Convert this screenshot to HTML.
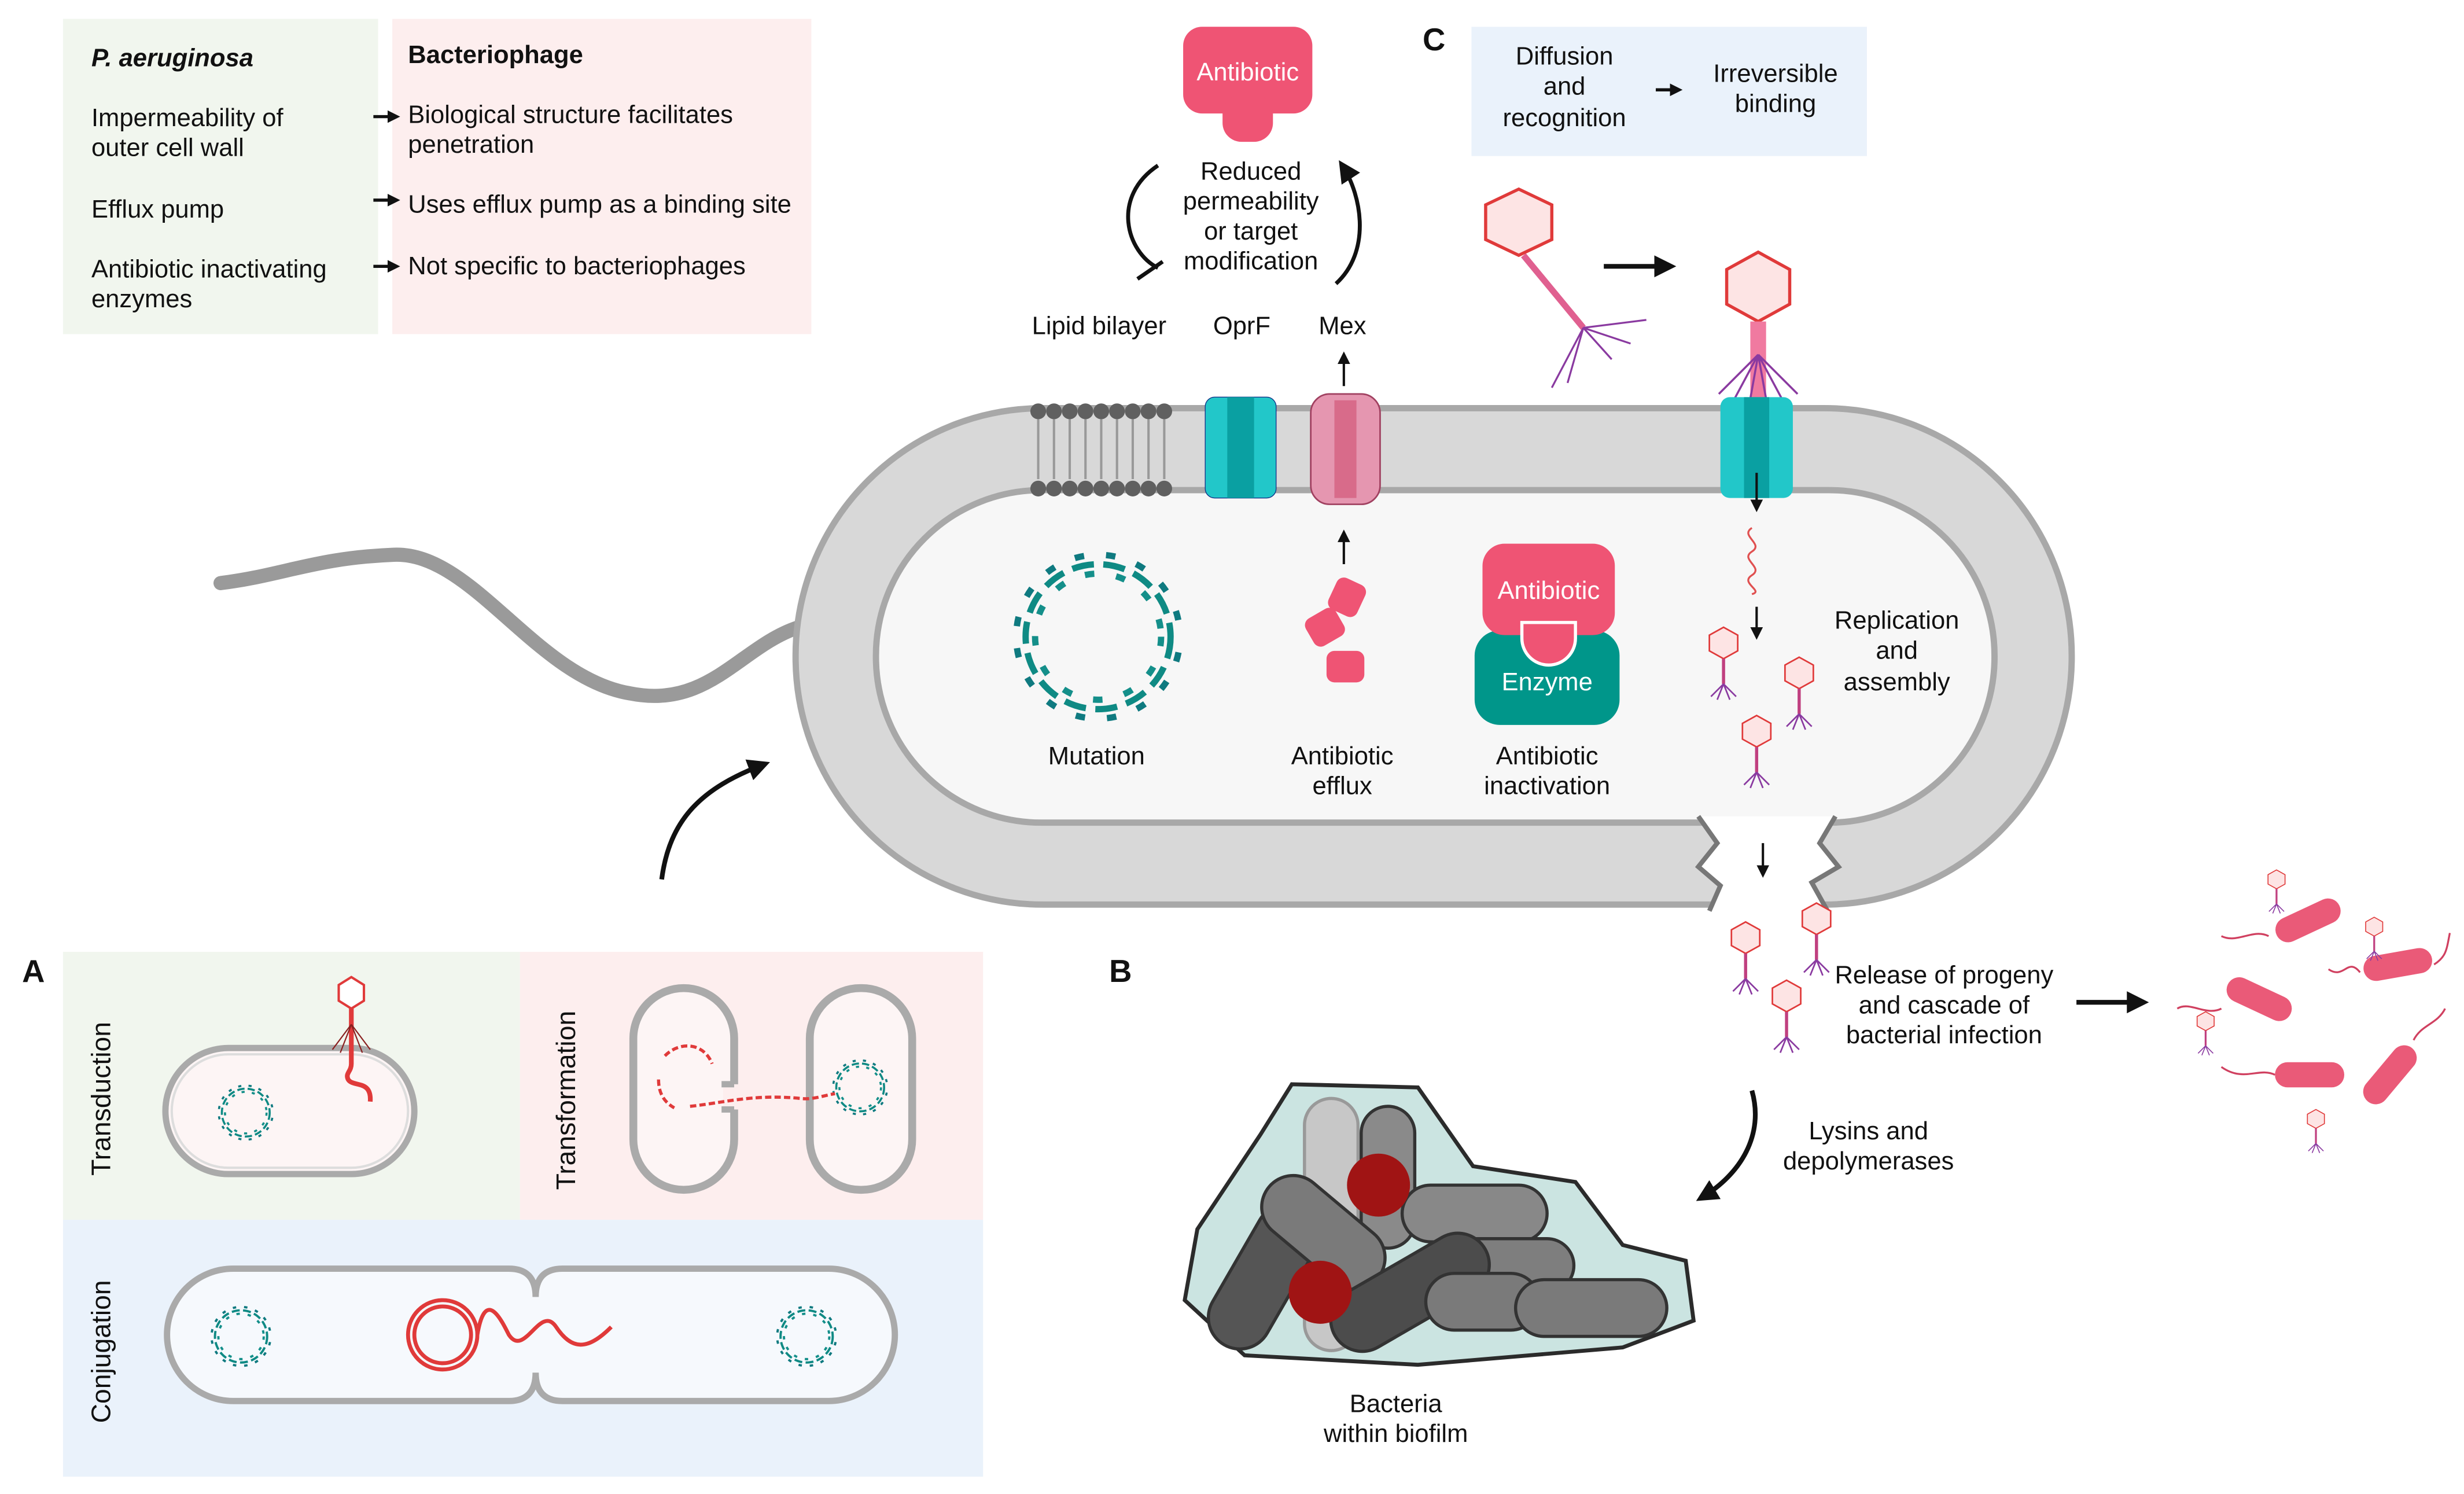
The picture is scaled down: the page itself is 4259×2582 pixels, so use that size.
<!DOCTYPE html>
<html><head><meta charset="utf-8"><style>
html,body{margin:0;padding:0;background:#fff}
svg{display:block}
text{font-family:"Liberation Sans",sans-serif;fill:#111}
</style></head><body>
<svg width="4259" height="2582" viewBox="0 0 1564 948" preserveAspectRatio="none" xmlns="http://www.w3.org/2000/svg">
<defs>
<marker id="ah" markerWidth="8" markerHeight="8" refX="6" refY="4" orient="auto" markerUnits="userSpaceOnUse"><path d="M0,0 L8,4 L0,8 z" fill="#111"/></marker>
<marker id="ahb" markerWidth="14" markerHeight="14" refX="10" refY="7" orient="auto" markerUnits="userSpaceOnUse"><path d="M0,0 L14,7 L0,14 z" fill="#111"/></marker>
<g id="dna">
<circle r="46" fill="none" stroke="#0f8a84" stroke-width="4" stroke-dasharray="14 6"/>
<circle r="40" fill="none" stroke="#148f8a" stroke-width="4" stroke-dasharray="6 14"/>
<circle r="52" fill="none" stroke="#0f7a80" stroke-width="4" stroke-dasharray="6 14" stroke-dashoffset="10"/>
</g>
<g id="phage">
<polygon points="0,-10 9,-5 9,5 0,10 -9,5 -9,-5" fill="#fde4e4" stroke="#e03a3a" stroke-width="1"/>
<line x1="0" y1="10" x2="0" y2="26" stroke="#c04080" stroke-width="2"/>
<path d="M0,26 l-8,8 M0,26 l8,8 M0,26 l-4,10 M0,26 l4,10" stroke="#8a3aa0" stroke-width="1" fill="none"/>
</g>
<g id="bact"><rect x="-22" y="-8" width="44" height="16" rx="8" fill="#ea5a78"/></g>
</defs>

<rect x="40" y="12" width="200" height="200" fill="#f1f6ee"/>
<rect x="249" y="12" width="266" height="200" fill="#fdeeee"/>
<text x="58" y="42" font-size="16" font-weight="bold" font-style="italic">P. aeruginosa</text>
<text x="259" y="40" font-size="16" font-weight="bold">Bacteriophage</text>
<text x="58" y="80" font-size="16">Impermeability of</text>
<text x="58" y="99" font-size="16">outer cell wall</text>
<text x="58" y="138" font-size="16">Efflux pump</text>
<text x="58" y="176" font-size="16">Antibiotic inactivating</text>
<text x="58" y="195" font-size="16">enzymes</text>
<text x="259" y="78" font-size="16">Biological structure facilitates</text>
<text x="259" y="97" font-size="16">penetration</text>
<text x="259" y="135" font-size="16">Uses efflux pump as a binding site</text>
<text x="259" y="174" font-size="16">Not specific to bacteriophages</text>
<line x1="237" y1="74" x2="252" y2="74" stroke="#111" stroke-width="2" marker-end="url(#ah)"/>
<line x1="237" y1="127" x2="252" y2="127" stroke="#111" stroke-width="2" marker-end="url(#ah)"/>
<line x1="237" y1="169" x2="252" y2="169" stroke="#111" stroke-width="2" marker-end="url(#ah)"/>

<path d="M507,398 C470,410 450,450 400,440 C340,430 300,350 250,352 C200,354 180,365 140,370" fill="none" stroke="#9a9a9a" stroke-width="9" stroke-linecap="round"/>

<rect x="505" y="259" width="810" height="315" rx="157" fill="#d8d8d8" stroke="#a8a8a8" stroke-width="4"/>
<rect x="556" y="311" width="710" height="211" rx="105" fill="#f7f7f7" stroke="#a8a8a8" stroke-width="4"/>
<g fill="#606060">
<circle cx="659" cy="261" r="5"/><circle cx="669" cy="261" r="5"/><circle cx="679" cy="261" r="5"/><circle cx="689" cy="261" r="5"/><circle cx="699" cy="261" r="5"/><circle cx="709" cy="261" r="5"/><circle cx="719" cy="261" r="5"/><circle cx="729" cy="261" r="5"/><circle cx="739" cy="261" r="5"/>
<circle cx="659" cy="310" r="5"/><circle cx="669" cy="310" r="5"/><circle cx="679" cy="310" r="5"/><circle cx="689" cy="310" r="5"/><circle cx="699" cy="310" r="5"/><circle cx="709" cy="310" r="5"/><circle cx="719" cy="310" r="5"/><circle cx="729" cy="310" r="5"/><circle cx="739" cy="310" r="5"/>
</g>
<path d="M659,266v38M669,266v38M679,266v38M689,266v38M699,266v38M709,266v38M719,266v38M729,266v38M739,266v38" stroke="#999" stroke-width="1.5"/>
<rect x="765" y="252" width="45" height="64" rx="6" fill="#22c7c9" stroke="#138" stroke-width="0.5"/>
<rect x="779" y="252" width="17" height="64" fill="#0aa0a2"/>
<rect x="832" y="250" width="44" height="70" rx="12" fill="#e596b0" stroke="#a04060" stroke-width="1"/>
<rect x="847" y="254" width="14" height="62" fill="#d86b8a"/>
<text x="655" y="212" font-size="16">Lipid bilayer</text>
<text x="770" y="212" font-size="16">OprF</text>
<text x="837" y="212" font-size="16">Mex</text>
<line x1="853" y1="245" x2="853" y2="225" stroke="#111" stroke-width="1.5" marker-end="url(#ah)"/>
<rect x="751" y="17" width="82" height="55" rx="12" fill="#ef5474"/>
<rect x="776" y="60" width="32" height="30" rx="12" fill="#ef5474"/>
<text x="792" y="51" font-size="16" text-anchor="middle" style="fill:#fff">Antibiotic</text>
<text x="794" y="114" font-size="16" text-anchor="middle">Reduced</text>
<text x="794" y="133" font-size="16" text-anchor="middle">permeability</text>
<text x="794" y="152" font-size="16" text-anchor="middle">or target</text>
<text x="794" y="171" font-size="16" text-anchor="middle">modification</text>
<path d="M735,105 C705,125 715,160 735,170" fill="none" stroke="#111" stroke-width="2.5"/>
<line x1="722" y1="177" x2="738" y2="166" stroke="#111" stroke-width="2.5"/>
<path d="M848,180 C870,160 865,125 852,105" fill="none" stroke="#111" stroke-width="2.5" marker-end="url(#ahb)"/>

<use href="#dna" x="697" y="404"/>
<text x="696" y="485" font-size="16" text-anchor="middle">Mutation</text>
<line x1="853" y1="358" x2="853" y2="338" stroke="#111" stroke-width="1.5" marker-end="url(#ah)"/>
<g fill="#ef5474"><rect x="845" y="368" width="20" height="22" rx="5" transform="rotate(25 855 379)"/><rect x="830" y="388" width="22" height="20" rx="5" transform="rotate(-30 841 398)"/><rect x="842" y="413" width="24" height="20" rx="5"/></g>
<text x="852" y="485" font-size="16" text-anchor="middle">Antibiotic</text>
<text x="852" y="504" font-size="16" text-anchor="middle">efflux</text>
<rect x="936" y="400" width="92" height="60" rx="16" fill="#00968a"/>
<rect x="941" y="345" width="84" height="58" rx="14" fill="#ef5474"/>
<path d="M966,395 v10 a17,17 0 0 0 34,0 v-10z" fill="#ef5474" stroke="#fff" stroke-width="2"/>
<text x="983" y="380" font-size="16" text-anchor="middle" style="fill:#fff">Antibiotic</text>
<text x="982" y="438" font-size="16" text-anchor="middle" style="fill:#fff">Enzyme</text>
<text x="982" y="485" font-size="16" text-anchor="middle">Antibiotic</text>
<text x="982" y="504" font-size="16" text-anchor="middle">inactivation</text>

<text x="903" y="32" font-size="20" font-weight="bold">C</text>
<rect x="934" y="17" width="251" height="82" fill="#eaf2fb"/>
<text x="993" y="41" font-size="16" text-anchor="middle">Diffusion</text>
<text x="993" y="60" font-size="16" text-anchor="middle">and</text>
<text x="993" y="80" font-size="16" text-anchor="middle">recognition</text>
<text x="1127" y="52" font-size="16" text-anchor="middle">Irreversible</text>
<text x="1127" y="71" font-size="16" text-anchor="middle">binding</text>
<line x1="1051" y1="57" x2="1066" y2="57" stroke="#111" stroke-width="2" marker-end="url(#ah)"/>
<polygon points="964,120 985,130 985,152 964,162 943,152 943,130" fill="#fde4e4" stroke="#e03a3a" stroke-width="2"/>
<line x1="967" y1="162" x2="1005" y2="208" stroke="#e06090" stroke-width="4"/>
<path d="M1005,208 l-20,38 M1005,208 l-10,35 M1005,208 l40,-5 M1005,208 l30,10 M1005,208 l18,20" stroke="#8a3aa0" stroke-width="1.2" fill="none"/>
<line x1="1018" y1="169" x2="1060" y2="169" stroke="#111" stroke-width="3" marker-end="url(#ahb)"/>
<polygon points="1116,160 1136,171 1136,193 1116,204 1096,193 1096,171" fill="#fde4e4" stroke="#e03a3a" stroke-width="2"/>
<rect x="1111" y="204" width="10" height="50" fill="#f07aa0"/>
<path d="M1116,225 l-25,25 M1116,225 l-15,28 M1116,225 l25,25 M1116,225 l15,28 M1116,225 l-5,28 M1116,225 l5,28" stroke="#8a3aa0" stroke-width="1.3" fill="none"/>
<rect x="1092" y="252" width="46" height="64" rx="6" fill="#22c7c9"/>
<rect x="1107" y="252" width="16" height="64" fill="#0aa0a2"/>
<line x1="1115" y1="300" x2="1115" y2="323" stroke="#111" stroke-width="1.5" marker-end="url(#ah)"/>
<path d="M1112,335 c-8,5 8,10 0,15 c-8,5 8,10 0,15 c-8,5 8,10 0,12" stroke="#e05050" fill="none" stroke-width="1.2"/>
<line x1="1115" y1="385" x2="1115" y2="404" stroke="#111" stroke-width="1.5" marker-end="url(#ah)"/>
<use href="#phage" x="1094" y="408"/><use href="#phage" x="1142" y="427"/><use href="#phage" x="1115" y="464"/>
<text x="1204" y="399" font-size="16" text-anchor="middle">Replication</text>
<text x="1204" y="418" font-size="16" text-anchor="middle">and</text>
<text x="1204" y="438" font-size="16" text-anchor="middle">assembly</text>
<polygon points="1078,518 1165,518 1155,535 1167,550 1150,560 1160,578 1085,578 1092,562 1078,550 1090,535" fill="#fff"/>
<path d="M1078,518 l12,17 -12,15 14,12 -7,16 M1165,518 l-10,17 12,15 -17,10 10,18" stroke="#777" stroke-width="3" fill="none"/>
<line x1="1119" y1="535" x2="1119" y2="555" stroke="#111" stroke-width="1.5" marker-end="url(#ah)"/>
<use href="#phage" x="1108" y="595"/><use href="#phage" x="1153" y="583"/><use href="#phage" x="1134" y="632"/>
<text x="1234" y="624" font-size="16" text-anchor="middle">Release of progeny</text>
<text x="1234" y="643" font-size="16" text-anchor="middle">and cascade of</text>
<text x="1234" y="662" font-size="16" text-anchor="middle">bacterial infection</text>
<line x1="1318" y1="636" x2="1360" y2="636" stroke="#111" stroke-width="3" marker-end="url(#ahb)"/>
<use href="#bact" transform="translate(1465,584) rotate(-25)"/>
<use href="#bact" transform="translate(1522,612) rotate(-10)"/>
<use href="#bact" transform="translate(1434,634) rotate(25)"/>
<use href="#bact" transform="translate(1466,682)"/>
<use href="#bact" transform="translate(1517,682) rotate(-50)"/>
<path d="M1440,594 c-10,-5 -20,5 -30,0 M1498,617 c-8,-10 -10,5 -20,-2 M1410,640 c-10,5 -20,-5 -28,0 M1444,682 c-10,-5 -20,5 -34,-5 M1532,660 c5,-10 15,-10 20,-20 M1545,612 c8,-5 8,-10 10,-20" stroke="#d04060" fill="none" stroke-width="1.2"/>
<use href="#phage" transform="translate(1445,558) scale(0.6)"/><use href="#phage" transform="translate(1507,588) scale(0.6)"/><use href="#phage" transform="translate(1400,648) scale(0.6)"/><use href="#phage" transform="translate(1470,710) scale(0.6)"/>

<path d="M1112,692 C1120,720 1105,745 1080,760" fill="none" stroke="#111" stroke-width="3" marker-end="url(#ahb)"/>
<text x="1186" y="723" font-size="16" text-anchor="middle">Lysins and</text>
<text x="1186" y="742" font-size="16" text-anchor="middle">depolymerases</text>

<path d="M420,558 C425,520 445,500 485,485" fill="none" stroke="#111" stroke-width="3" marker-end="url(#ahb)"/>

<text x="704" y="623" font-size="20" font-weight="bold">B</text>
<path d="M820,688 L900,690 L935,740 L1000,750 L1030,790 L1070,800 L1075,838 L1030,855 L900,866 L790,860 L752,825 L760,780 L800,720 Z" fill="#cbe4e1" stroke="#2b2b2b" stroke-width="2.5"/>
<g stroke="#333" stroke-width="2">
<rect x="828" y="697" width="34" height="160" rx="17" fill="#c7c7c7" stroke="#999"/>
<rect x="864" y="702" width="34" height="90" rx="17" fill="#8a8a8a"/>
<rect x="752" y="790" width="100" height="40" rx="20" fill="#555" transform="rotate(-60 802 810)"/>
<rect x="795" y="762" width="90" height="40" rx="20" fill="#7a7a7a" transform="rotate(40 840 782)"/>
<rect x="890" y="752" width="92" height="36" rx="18" fill="#888"/>
<rect x="905" y="786" width="94" height="34" rx="17" fill="#7e7e7e"/>
<rect x="840" y="800" width="110" height="40" rx="20" fill="#4c4c4c" transform="rotate(-30 895 820)"/>
<rect x="905" y="808" width="72" height="36" rx="18" fill="#7a7a7a"/>
<rect x="962" y="812" width="96" height="36" rx="18" fill="#7a7a7a"/>
</g>
<circle cx="875" cy="752" r="20" fill="#a01414"/>
<circle cx="838" cy="820" r="20" fill="#a01414"/>
<text x="886" y="896" font-size="16" text-anchor="middle">Bacteria</text>
<text x="886" y="915" font-size="16" text-anchor="middle">within biofilm</text>

<text x="14" y="623" font-size="20" font-weight="bold">A</text>
<rect x="40" y="604" width="290" height="170" fill="#f1f6ee"/>
<rect x="330" y="604" width="294" height="170" fill="#fdeeee"/>
<rect x="40" y="774" width="584" height="163" fill="#eaf2fb"/>
<text transform="translate(70,746) rotate(-90)" font-size="17">Transduction</text>
<text transform="translate(365,755) rotate(-90)" font-size="17">Transformation</text>
<text transform="translate(70,903) rotate(-90)" font-size="17">Conjugation</text>
<rect x="105" y="665" width="158" height="80" rx="40" fill="#fdf5f5" stroke="#aaa" stroke-width="4"/>
<rect x="109" y="669" width="150" height="72" rx="36" fill="none" stroke="#ddd" stroke-width="1.5"/>
<use href="#dna" transform="translate(156,706) scale(0.33)"/>
<polygon points="223,620 231,625 231,635 223,640 215,635 215,625" fill="#fff" stroke="#e03a3a" stroke-width="1.5"/>
<path d="M223,640 v35 c0,5 -4,6 -2,10 c3,5 15,0 14,14" stroke="#e03a3a" stroke-width="3" fill="none"/>
<path d="M223,650 l-12,16 M223,650 l12,16 M223,650 l-7,18 M223,650 l7,18" stroke="#8a2020" stroke-width="0.8"/>
<rect x="402" y="627" width="64" height="128" rx="32" fill="#fdf5f5" stroke="#aaa" stroke-width="5"/>
<rect x="459" y="688" width="12" height="16" fill="#fdeeee"/>
<path d="M458,688 h8 M458,704 h8" stroke="#aaa" stroke-width="4"/>
<rect x="514" y="627" width="65" height="128" rx="32" fill="#fdf5f5" stroke="#aaa" stroke-width="5"/>
<use href="#dna" transform="translate(546,690) scale(0.33)"/>
<path d="M422,670 c10,-10 25,-8 30,5 M418,685 c0,8 3,14 10,18 M438,702 c20,-2 40,-8 70,-5 c8,1 15,-2 22,-3" stroke="#e03a3a" stroke-width="2" stroke-dasharray="4 2" fill="none"/>
<path d="M148,805 h175 q17,0 17,18 q0,-18 17,-18 h169 a42,42 0 0 1 0,84 h-169 q-17,0 -17,-18 q0,18 -17,18 h-175 a42,42 0 0 1 0,-84 z" fill="#f6f9fd" stroke="#aaa" stroke-width="4"/>
<use href="#dna" transform="translate(153,848) scale(0.36)"/>
<use href="#dna" transform="translate(512,848) scale(0.36)"/>
<circle cx="281" cy="847" r="22" fill="none" stroke="#e03a3a" stroke-width="2.5"/>
<circle cx="281" cy="847" r="18" fill="none" stroke="#e03a3a" stroke-width="2.5"/>
<path d="M303,847 c5,-30 15,-10 20,0 c10,15 20,-20 30,-5 c10,15 20,15 35,0" stroke="#e03a3a" stroke-width="2.5" fill="none"/>
</svg>
</body></html>
